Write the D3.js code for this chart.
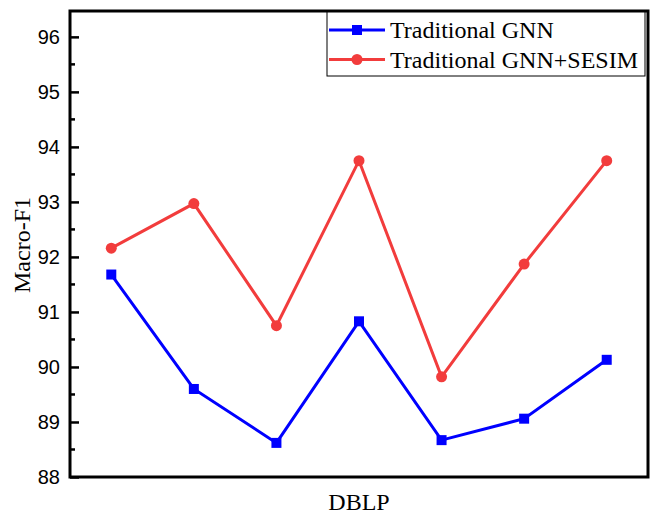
<!DOCTYPE html>
<html><head><meta charset="utf-8">
<script src="https://cdn.jsdelivr.net/npm/d3@7"></script>
<style>body{margin:0;background:#fff}svg{display:block}</style>
</head><body>
<script>
const categories = [1,2,3,4,5,6,7];
const gnn = [91.68, 89.60, 88.62, 90.83, 88.67, 89.06, 90.13];
const gnnSesim = [92.16, 92.97, 90.75, 93.75, 89.82, 91.87, 93.75];
const yTicks = [88,89,90,91,92,93,94,95,96];
const seriesNames = ["Traditional GNN", "Traditional GNN+SESIM"];
const colors = ["#0000FF", "#F23C3C"];

const W=650,H=519;
const m={left:70,right:2,top:11,bottom:42};
const svg=d3.select("body").append("svg").attr("width",W).attr("height",H);
const x=d3.scaleLinear().domain([-0.5,categories.length-0.5]).range([m.left,W-m.right]);
const y=d3.scaleLinear().domain([88,96.47]).range([H-m.bottom,m.top]);

const yAxis=d3.axisLeft(y).tickValues(yTicks).tickFormat(d3.format("d")).tickSizeInner(-9).tickSizeOuter(0).tickPadding(10);
const ga=svg.append("g").attr("transform",`translate(${m.left},0)`).call(yAxis);
ga.select(".domain").remove();
ga.selectAll(".tick line").attr("stroke","#000").attr("stroke-width",2.5);
ga.selectAll(".tick text").attr("font-family","'Liberation Sans',Arial,sans-serif").attr("font-size",20).attr("fill","#000");
const minor=d3.range(88.5,96.5,1);
svg.append("g").selectAll("line").data(minor).join("line")
 .attr("x1",m.left).attr("x2",m.left+5).attr("y1",d=>y(d)).attr("y2",d=>y(d))
 .attr("stroke","#000").attr("stroke-width",2.5);

svg.append("rect").attr("x",m.left).attr("y",m.top).attr("width",W-m.right-m.left).attr("height",H-m.bottom-m.top)
 .attr("fill","none").attr("stroke","#000").attr("stroke-width",3);

const data=[gnn,gnnSesim];
const line=d3.line().x((d,i)=>x(i)).y(d=>y(d));
data.forEach((s,k)=>{
  svg.append("path").datum(s).attr("d",line).attr("fill","none").attr("stroke",colors[k]).attr("stroke-width",3);
  if(k===0){
    svg.append("g").selectAll("rect").data(s).join("rect")
     .attr("x",(d,i)=>x(i)-5).attr("y",d=>y(d)-5).attr("width",10).attr("height",10).attr("fill",colors[k]);
  } else {
    svg.append("g").selectAll("circle").data(s).join("circle")
     .attr("cx",(d,i)=>x(i)).attr("cy",d=>y(d)).attr("r",5.5).attr("fill",colors[k]);
  }
});

const serif="'Liberation Serif','Times New Roman',serif";
const lg=svg.append("g");
lg.append("rect").attr("x",327).attr("y",12).attr("width",318).attr("height",64).attr("fill","#fff").attr("stroke","#000").attr("stroke-width",1);
seriesNames.forEach((n,k)=>{
  const yy=30+k*29.5;
  lg.append("line").attr("x1",329).attr("x2",385).attr("y1",yy).attr("y2",yy).attr("stroke",colors[k]).attr("stroke-width",3);
  if(k===0) lg.append("rect").attr("x",352).attr("y",yy-5).attr("width",10).attr("height",10).attr("fill",colors[k]);
  else lg.append("circle").attr("cx",357).attr("cy",yy).attr("r",5.5).attr("fill",colors[k]);
  lg.append("text").attr("x",390).attr("y",yy+8).text(n)
   .attr("font-family",serif).attr("font-size",24).attr("fill","#000");
});

svg.append("text").attr("transform",`translate(30,245) rotate(-90)`).attr("text-anchor","middle")
 .attr("font-family",serif).attr("font-size",24).text("Macro-F1");
svg.append("text").attr("x",359).attr("y",510).attr("text-anchor","middle")
 .attr("font-family",serif).attr("font-size",24).text("DBLP");
</script>
</body></html>
